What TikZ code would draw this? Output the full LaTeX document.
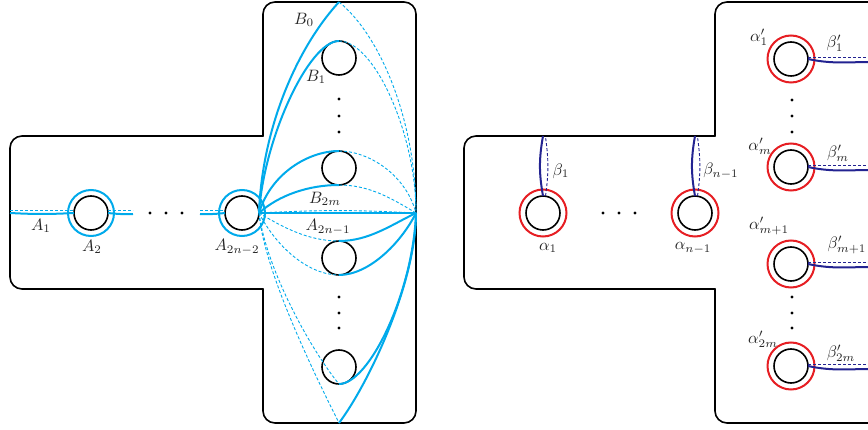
\documentclass[tikz,border=0pt]{standalone}
\usepackage{tikz}
\definecolor{lb}{RGB}{0,170,235}
\definecolor{nv}{RGB}{35,35,145}
\definecolor{rd}{RGB}{230,30,35}
\tikzset{
  outline/.style={line width=1.6pt, black, line cap=round},
  hole/.style={circle, draw, black, line width=1.6pt, minimum size=34pt, inner sep=0pt, outer sep=0pt},
  sb/.style={lb, line width=2pt},
  db/.style={lb, line width=0.9pt, dash pattern=on 3pt off 2pt},
  nb/.style={nv, line width=2pt},
  nd/.style={nv, line width=0.9pt, dash pattern=on 3pt off 2pt},
  ringb/.style={lb, line width=2pt},
  ringr/.style={rd, line width=2pt},
  lbl/.style={text=black!85, inner sep=0pt, scale=1.65},
  dotn/.style={circle, fill=black, inner sep=0pt, minimum size=3.4pt}
}
\begin{document}
\begin{tikzpicture}[x=1pt,y=1pt]
\useasboundingbox (0,0) rectangle (868,-430);
\clip (0,0) rectangle (868,-430);
% ---------- left figure ----------
\draw[outline, rounded corners=12pt] (263,-136) -- (263,-2) -- (416,-2) -- (416,-423) -- (263,-423) -- (263,-289);
\draw[outline, rounded corners=12pt] (263,-289) -- (10,-289) -- (10,-136) -- (263,-136);
\node[hole] (h1) at (91,-213) {};
\node[hole] (h2) at (242,-213) {};
\node[hole] (v1) at (339,-58) {};
\node[hole] (v2) at (339,-168) {};
\node[hole] (v3) at (339,-258) {};
\node[hole] (v4) at (339,-367) {};
\draw[ringb] (h1) circle (23);
\draw[ringb] (h2) circle (23);
\coordinate (Q) at (h2.east);
\coordinate (P) at (416,-213);
\coordinate (T0) at (339,-2);
\coordinate (T5) at (339,-423);
\coordinate (L0) at (10,-213);
\coordinate (L0d) at (10,-210.5);
\coordinate (c1) at (133,-214);
\coordinate (c1d) at (133,-210.5);
\coordinate (c2) at (200,-214);
\coordinate (c2d) at (200,-210.5);
% A curves
\draw[sb] (L0) to[bend right=3] (h1.west);
\draw[db] (L0d) -- (74,-210.5);
\draw[sb] (h1.east) to[bend right=4] (c1);
\draw[db] (108,-210.5) -- (c1d);
\draw[sb] (c2) to[bend right=4] (h2.west);
\draw[db] (c2d) -- (225,-210.5);
% upper fan
\draw[sb] (Q) .. controls +(3,82) and +(-44,-48) .. (T0);
\draw[sb] (Q) .. controls +(5,75) and +(-30,0) .. (v1.north);
\draw[sb] (Q) .. controls +(12,40) and +(-30,0) .. (v2.north);
\draw[sb] (Q) .. controls +(20,18) and +(-30,0) .. (v2.south);
\draw[sb] (Q) -- (P);
\draw[db] (T0) .. controls +(41,-33) and +(0,93) .. (P);
\draw[db] (v1.north) .. controls +(35,0) and +(0,80) .. (P);
\draw[db] (v2.north) .. controls +(30,0) and +(-10,38) .. (P);
\draw[db] (v2.south) .. controls +(30,0) and +(-25,15) .. (P);
\draw[db] (Q) to[bend left=3] (P);
% lower fan
\draw[sb] (v3.north) .. controls +(30,0) and +(-25,-12) .. (P);
\draw[sb] (v3.south) .. controls +(30,0) and +(-15,-30) .. (P);
\draw[sb] (v4.south) .. controls +(30,0) and +(-3,-80) .. (P);
\draw[sb] (T5) .. controls +(30,40) and +(0,-70) .. (P);
\draw[db] (Q) .. controls +(25,-15) and +(-30,0) .. (v3.north);
\draw[db] (Q) .. controls +(18,-35) and +(-30,0) .. (v3.south);
\draw[db] (Q) .. controls +(8,-60) and +(-25,30) .. (v4.south);
\draw[db] (Q) .. controls +(5,-60) and +(-20,40) .. (T5);
% dots
\node[dotn] (d1) at (150,-213) {};
\node[dotn] (d2) at (166,-213) {};
\node[dotn] (d3) at (182,-213) {};
\node[dotn] (d4) at (339,-99) {};
\node[dotn] (d5) at (339,-116) {};
\node[dotn] (d6) at (339,-132) {};
\node[dotn] (d7) at (339,-297) {};
\node[dotn] (d8) at (339,-313) {};
\node[dotn] (d9) at (339,-328) {};
% labels
\node[lbl] (lA1) at (41,-226) {$A_1$};
\node[lbl] (lA2) at (92,-247) {$A_2$};
\node[lbl] (lA3) at (237,-247) {$A_{2n-2}$};
\node[lbl] (lB0) at (304,-20) {$B_0$};
\node[lbl] (lB1) at (316,-77) {$B_1$};
\node[lbl] (lB2) at (325,-199) {$B_{2m}$};
\node[lbl] (lA4) at (328,-227) {$A_{2n-1}$};
% ---------- right figure ----------
\draw[outline, rounded corners=12pt] (715,-136) -- (715,-2) -- (900,-2);
\draw[outline, rounded corners=12pt] (900,-423) -- (715,-423) -- (715,-289);
\draw[outline, rounded corners=12pt] (715,-289) -- (464,-289) -- (464,-136) -- (715,-136);
\node[hole] (a1) at (543,-213) {};
\node[hole] (a2) at (695,-213) {};
\node[hole] (w1) at (791,-59) {};
\node[hole] (w2) at (791,-167) {};
\node[hole] (w3) at (791,-264) {};
\node[hole] (w4) at (791,-366) {};
\foreach \h in {a1,a2,w1,w2,w3,w4} \draw[ringr] (\h) circle (23.5);
\coordinate (b1t) at (543,-136);
\coordinate (b2t) at (695,-136);
\draw[nb] (a1.north) to[out=100,in=-100] (b1t);
\draw[nd] (545.5,-196) to[bend right=8] (545.5,-137);
\draw[nb] (a2.north) to[out=100,in=-100] (b2t);
\draw[nd] (697.5,-196) to[bend right=8] (697.5,-137);
\foreach \h in {w1,w2,w3,w4} {
  \draw[nb] (\h.east) to[out=-12,in=180] ([shift={(64,-3)}]\h.east);
  \draw[nd] ([yshift=2pt]\h.east) -- ([shift={(64,2)}]\h.east);
}
\node[dotn] (e1) at (603,-213) {};
\node[dotn] (e2) at (619,-213) {};
\node[dotn] (e3) at (635,-213) {};
\node[dotn] (e4) at (792,-100) {};
\node[dotn] (e5) at (792,-116) {};
\node[dotn] (e6) at (792,-132) {};
\node[dotn] (e7) at (792,-297) {};
\node[dotn] (e8) at (792,-313) {};
\node[dotn] (e9) at (792,-328) {};
\node[lbl] (lb1) at (561,-171) {$\beta_1$};
\node[lbl] (lb2) at (721,-171) {$\beta_{n-1}$};
\node[lbl] (la1) at (548,-248) {$\alpha_1$};
\node[lbl] (la2) at (693,-248) {$\alpha_{n-1}$};
\node[lbl] (lc1) at (759,-37) {$\alpha'_1$};
\node[lbl] (ld1) at (835,-43) {$\beta'_1$};
\node[lbl] (lc2) at (760,-146) {$\alpha'_m$};
\node[lbl] (ld2) at (838,-153) {$\beta'_m$};
\node[lbl] (lc3) at (769,-226) {$\alpha'_{m+1}$};
\node[lbl] (ld3) at (847,-245) {$\beta'_{m+1}$};
\node[lbl] (lc4) at (763,-339) {$\alpha'_{2m}$};
\node[lbl] (ld4) at (841,-353) {$\beta'_{2m}$};
\end{tikzpicture}
\end{document}
